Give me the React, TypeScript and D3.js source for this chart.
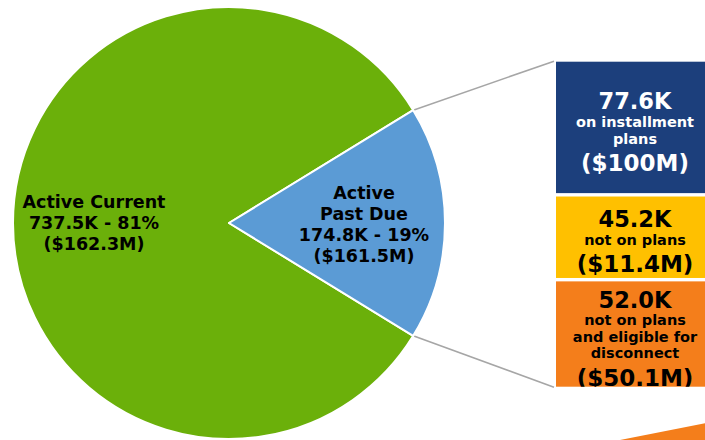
import React from "react";
import * as d3 from "d3";

// ---- Data ----
const pieCategories = ["Active Current", "Active Past Due"];
const pieLabelLines = [
  ["Active Current", "737.5K - 81%", "($162.3M)"],
  ["Active", "Past Due", "174.8K - 19%", "($161.5M)"],
];
// slice sweep as drawn (share of the circle, %)
const pieShares = [82.5, 17.5];
const pieColors = ["#6BB00A", "#5B9BD5"];

const segmentCounts = ["77.6K", "45.2K", "52.0K"];
const segmentDescriptions = [
  ["on installment", "plans"],
  ["not on plans"],
  ["not on plans", "and eligible for", "disconnect"],
];
const segmentDollars = ["($100M)", "($11.4M)", "($50.1M)"];
// segment heights as drawn (share of the bar, %)
const segmentShares = [41.3, 25.6, 33.1];
const segmentColors = ["#1C3F7C", "#FFC000", "#F47E1B"];
const segmentTextColors = ["#FFFFFF", "#000000", "#000000"];

const W = 705;
const H = 440;
const FONT = "'DejaVu Sans', Verdana, sans-serif";

export default function App() {
  const cx = 229;
  const cy = 223;
  const r = 216;

  const total = d3.sum(pieShares);
  const blueAngle = (2 * Math.PI * pieShares[1]) / total;
  const start = Math.PI / 2 + blueAngle / 2;
  const pie = d3
    .pie<number>()
    .sort(null)
    .startAngle(start)
    .endAngle(start + 2 * Math.PI)
    .value((d) => d);
  const arcs = pie(pieShares);
  const arc = d3.arc<d3.PieArcDatum<number>>().innerRadius(0).outerRadius(r);
  const labelArc = d3
    .arc<d3.PieArcDatum<number>>()
    .innerRadius(r * 0.625)
    .outerRadius(r * 0.625);

  // stacked bar
  const barX = 556;
  const barW = 162;
  const barTop = 61.7;
  const barBottom = 386.7;
  const gap = 3.4;
  const segSum = d3.sum(segmentShares);
  const hScale = d3
    .scaleLinear()
    .domain([0, segSum])
    .range([0, barBottom - barTop - gap * (segmentShares.length - 1)]);
  let acc = 0;
  const segs = segmentShares.map((v, i) => {
    const y0 = barTop + hScale(acc) + i * gap;
    acc += v;
    const y1 = barTop + hScale(acc) + i * gap;
    return { y0, y1, i };
  });

  // connector endpoints: pie slice corners
  const blueArc = arcs[1];
  const corner = (ang: number) => [cx + r * Math.sin(ang), cy - r * Math.cos(ang)];
  const [ux, uy] = corner(blueArc.startAngle);
  const [lx, ly] = corner(blueArc.endAngle);

  const layoutLines = (i: number) => {
    const lines: { text: string; big: boolean; dollar: boolean }[] = [];
    lines.push({ text: segmentCounts[i], big: true, dollar: false });
    segmentDescriptions[i].forEach((t) => lines.push({ text: t, big: false, dollar: false }));
    lines.push({ text: segmentDollars[i], big: true, dollar: true });
    const bl: number[] = [0];
    for (let k = 1; k < lines.length; k++) {
      const prev = lines[k - 1];
      const cur = lines[k];
      let step = 16.7;
      if (prev.big && !cur.big) step = 17.5;
      else if (!prev.big && cur.big) step = 27.5;
      bl.push(bl[k - 1] + step);
    }
    const seg = segs[i];
    const center = (seg.y0 + seg.y1) / 2;
    const shift = center + 4.5 - (bl[bl.length - 1] - 16.5) / 2;
    return lines.map((l, k) => ({ ...l, y: bl[k] + shift }));
  };

  return (
    <svg
      width={W}
      height={H}
      viewBox={`0 0 ${W} ${H}`}
      style={{ position: "absolute", left: 0, top: 0, background: "#fff" }}
      fontFamily={FONT}
    >
      <defs>
        {segs.map((s) => (
          <clipPath id={`seg-clip-${s.i}`} key={s.i}>
            <rect x={barX} y={s.y0} width={barW} height={s.y1 - s.y0} />
          </clipPath>
        ))}
      </defs>

      {/* connector lines */}
      <line x1={ux} y1={uy} x2={barX - 2} y2={barTop - 0.5} stroke="#A6A6A6" strokeWidth={1.6} />
      <line x1={lx} y1={ly} x2={barX - 2} y2={barBottom + 0.5} stroke="#A6A6A6" strokeWidth={1.6} />

      {/* pie */}
      <g transform={`translate(${cx},${cy})`}>
        {arcs.map((a, i) => (
          <path key={pieCategories[i]} d={arc(a) || ""} fill={pieColors[i]} stroke="#fff" strokeWidth={2} strokeLinejoin="round" />
        ))}
        {arcs.map((a, i) => {
          const [lxp, lyp] = labelArc.centroid(a);
          const lines = pieLabelLines[i];
          const lh = 21;
          const off = i === 0 ? 6 : 7;
          return (
            <text key={`lbl-${i}`} textAnchor="middle" fontSize={17.5} fontWeight="bold" fill="#000">
              {lines.map((t, k) => (
                <tspan key={k} x={lxp} y={lyp + (k - (lines.length - 1) / 2) * lh + off}>
                  {t}
                </tspan>
              ))}
            </text>
          );
        })}
      </g>

      {/* stacked segments */}
      {segs.map((s) => (
        <g key={`seg-${s.i}`}>
          <rect x={barX} y={s.y0} width={barW} height={s.y1 - s.y0} fill={segmentColors[s.i]} />
          <g clipPath={`url(#seg-clip-${s.i})`}>
            {layoutLines(s.i).map((l, k) => (
              <text
                key={k}
                x={barX + barW / 2 - 2}
                y={l.y}
                textAnchor="middle"
                fontWeight="bold"
                fontSize={l.big ? (l.dollar ? 23 : 22.5) : 14.5}
                fill={segmentTextColors[s.i]}
              >
                {l.text}
              </text>
            ))}
          </g>
        </g>
      ))}

      {/* orange arrow fragment at bottom right */}
      <path d="M615,441 L706,423 L706,441 Z" fill={segmentColors[2]} />
    </svg>
  );
}
